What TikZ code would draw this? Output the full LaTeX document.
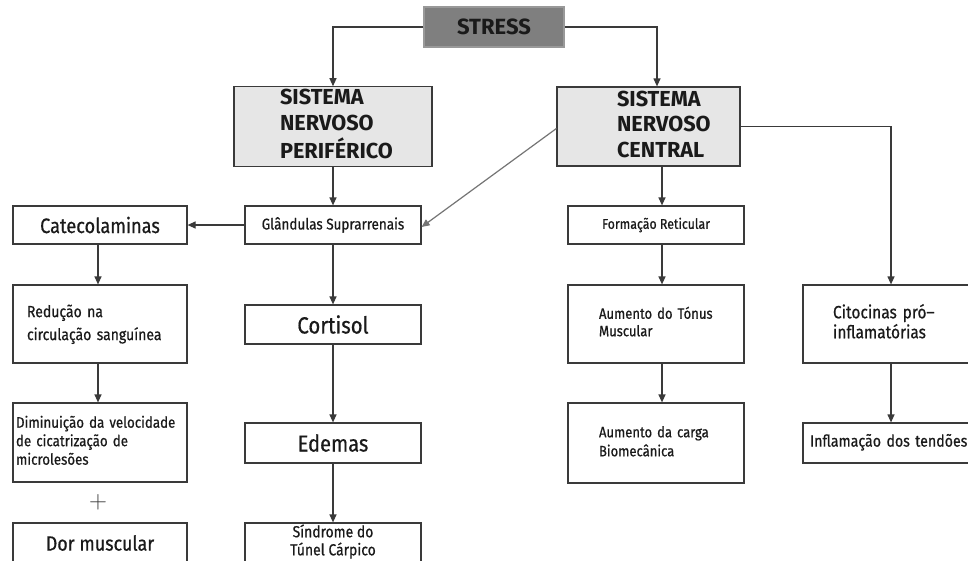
\documentclass[tikz,border=0pt]{standalone}
\usepackage{fontspec}
\setmainfont{Fira Sans}[UprightFeatures={FakeStretch=0.87,FakeBold=0.6}]
\usetikzlibrary{arrows.meta}
\definecolor{lc}{HTML}{3A3A3A}
\definecolor{tc}{HTML}{1A1A1A}
\definecolor{stressfill}{HTML}{7F7F7F}
\definecolor{sysfill}{HTML}{E6E6E6}
\definecolor{diag}{HTML}{757575}
\newcommand{\fs}[2]{\fontsize{#1}{#2}\selectfont}
\newcommand{\ltxt}[2]{\hspace*{#1}\begin{tabular}{@{}l@{}}#2\end{tabular}}
\tikzset{
  box/.style={draw=lc, line width=1.2pt, inner sep=0pt, text=tc, align=center},
  lbox/.style={box, align=left},
  arr/.style={draw=lc, line width=1.2pt, -{Triangle[length=8pt,width=7pt]}},
}
\begin{document}
\begin{tikzpicture}[x=1pt,y=-1pt]
\clip (0,0) rectangle (968,560);
\fill[white] (0,0) rectangle (968,560);

% top
\node[box, fill=stressfill, draw=stressfill!80!white, minimum width=140pt, minimum height=40pt,
  font=\bfseries\fs{22}{24}] (stress) at (494,27) {STRESS};
\node[lbox, fill=sysfill, minimum width=198pt, minimum height=79pt, text width=198pt,
  font=\bfseries\fs{21.7}{25.5}] (snp) at (333,126.5) {\ltxt{46pt}{SISTEMA\\NERVOSO\\PERIFÉRICO}};
\node[lbox, fill=sysfill, minimum width=183pt, minimum height=79pt, text width=183pt,
  font=\bfseries\fs{21.7}{25.5}] (snc) at (648.5,126.5) {\ltxt{60pt}{SISTEMA\\NERVOSO\\CENTRAL}};

% left column
\node[box, minimum width=174pt, minimum height=38pt, font=\fs{20.9}{24}] (cat) at (100,225) {Catecolaminas};
\node[lbox, minimum width=174pt, minimum height=78pt, text width=174pt, font=\fs{16.1}{23}] (red) at (100,324)
  {\ltxt{14pt}{Redução na\\circulação sanguínea}};
\node[lbox, minimum width=174pt, minimum height=79pt, text width=174pt, font=\fs{15.3}{18.5}] (dim) at (100,442.5)
  {\ltxt{3pt}{Diminuição da velocidade\\de cicatrização de\\microlesões}};
\node[text=lc, font=\fs{27}{27}, inner sep=0pt] (plus) at (98,502) {$+$};
\node[box, minimum width=174pt, minimum height=40pt, font=\fs{20.6}{24}] (dor) at (100,543) {Dor muscular};

% second column
\node[box, minimum width=176pt, minimum height=38pt, font=\fs{15.5}{18}] (glan) at (333,225) {Glândulas Suprarrenais};
\node[box, minimum width=176pt, minimum height=39pt, font=\fs{23.4}{26}] (cort) at (333,324.5) {Cortisol};
\node[box, minimum width=176pt, minimum height=40pt, font=\fs{23.1}{26}] (edem) at (333,443) {Edemas};
\node[box, minimum width=176pt, minimum height=51pt, font=\fs{16}{17.5}] (sind) at (333,548.5)
  {\begin{tabular}{@{}c@{}}Síndrome do\\Túnel Cárpico\\[12pt]\end{tabular}};

% third column
\node[box, minimum width=176pt, minimum height=38pt, font=\fs{14.2}{18}] (form) at (656,225) {Formação Reticular};
\node[lbox, minimum width=176pt, minimum height=78pt, text width=176pt, font=\fs{15}{17.5}] (aton) at (656,324)
  {\ltxt{31pt}{Aumento do Tónus\\Muscular}};
\node[lbox, minimum width=176pt, minimum height=80pt, text width=176pt, font=\fs{15}{19}] (acar) at (656,443)
  {\ltxt{31pt}{Aumento da carga\\Biomecânica}};

% fourth column
\node[lbox, minimum width=187pt, minimum height=78pt, text width=187pt, font=\fs{17.8}{19}] (cito) at (896.5,324)
  {\ltxt{30pt}{Citocinas pró–\\inflamatórias}};
\node[lbox, minimum width=187pt, minimum height=40pt, text width=187pt, font=\fs{16.3}{18}] (infl) at (896.5,443)
  {\ltxt{7pt}{Inflamação dos tendões}};

% connectors
\draw[arr] (stress.west) -| (snp.north);
\draw[arr] (stress.east) -| ([xshift=8.5pt]snc.north);
\draw[arr] (snp.south) -- (glan.north);
\draw[arr, draw=diag] ([yshift=-2pt]snc.west) -- ([yshift=-2pt]glan.east);
\draw[arr] (snc.east) -| ([xshift=-5.5pt]cito.north);
\draw[arr] ([xshift=13.5pt]snc.south) -- ([xshift=6pt]form.north);
\draw[arr] (glan.west) -- (cat.east);
\draw[arr] ([xshift=-2pt]cat.south) -- ([xshift=-2pt]red.north);
\draw[arr] ([xshift=-2pt]red.south) -- ([xshift=-2pt]dim.north);
\draw[arr] (glan.south) -- (cort.north);
\draw[arr] (cort.south) -- (edem.north);
\draw[arr] (edem.south) -- (sind.north);
\draw[arr] ([xshift=6pt]form.south) -- ([xshift=6pt]aton.north);
\draw[arr] ([xshift=6pt]aton.south) -- ([xshift=6pt]acar.north);
\draw[arr] ([xshift=-5.5pt]cito.south) -- ([xshift=-5.5pt]infl.north);
\end{tikzpicture}
\end{document}
